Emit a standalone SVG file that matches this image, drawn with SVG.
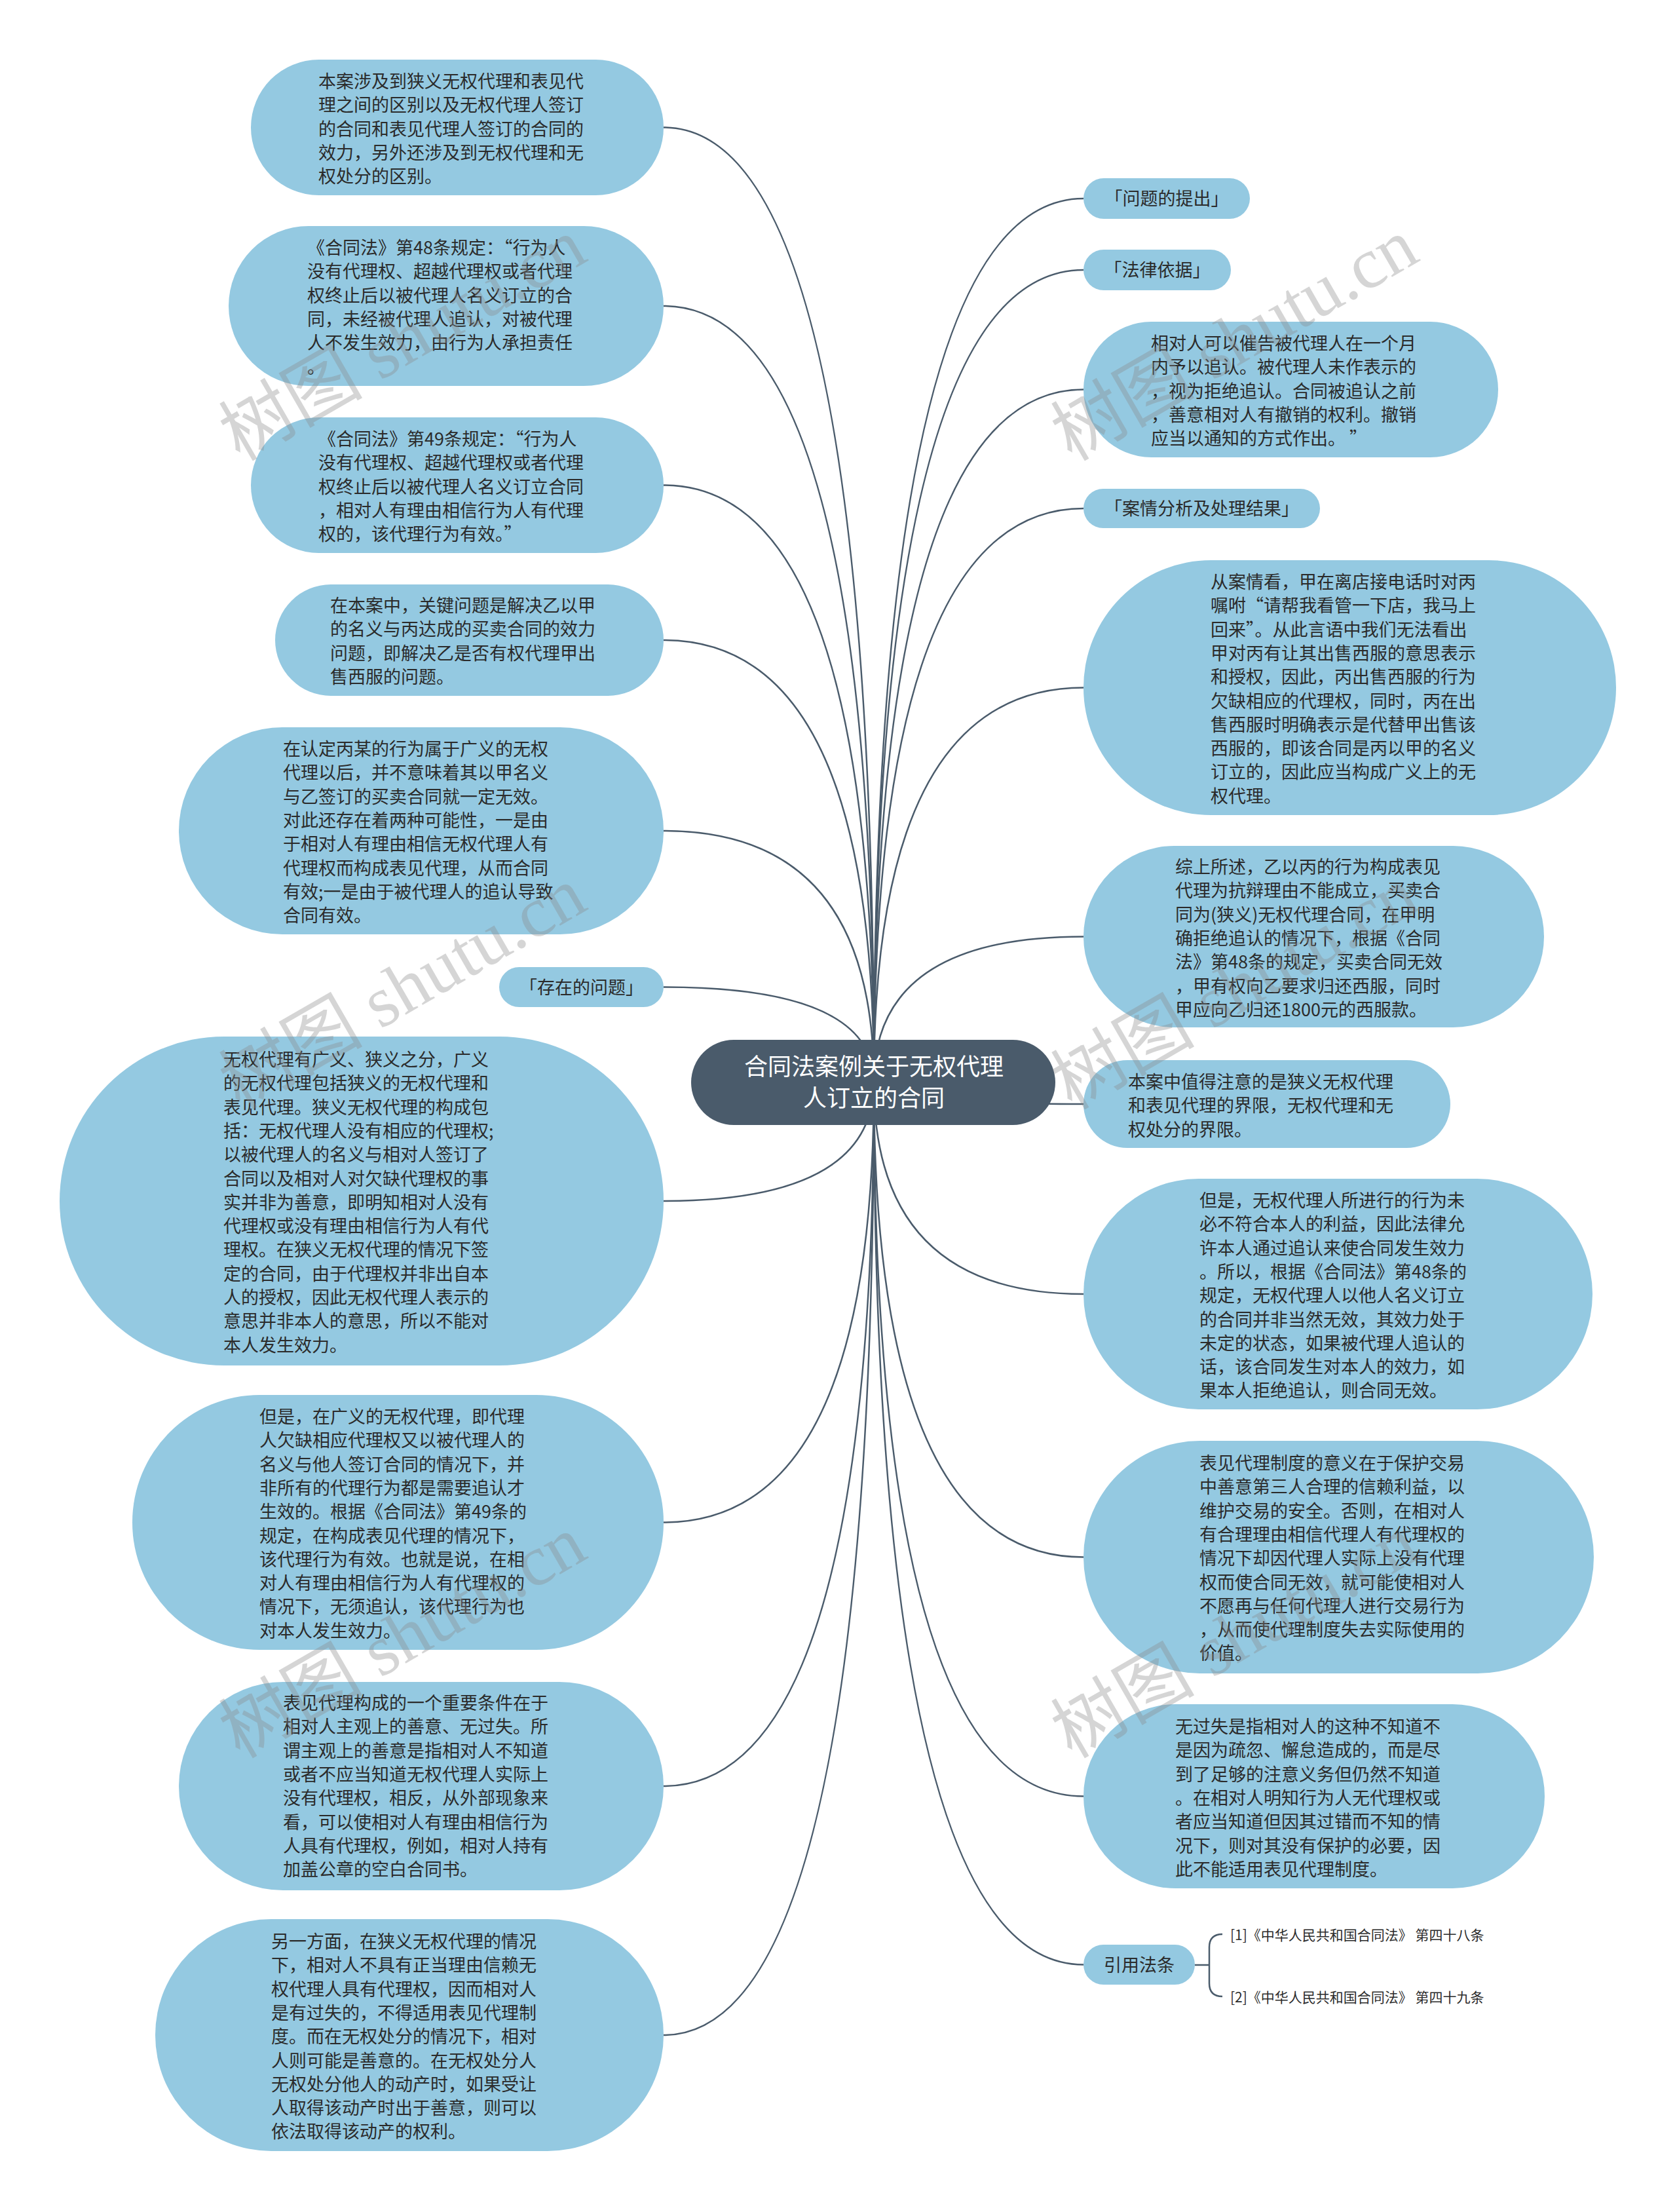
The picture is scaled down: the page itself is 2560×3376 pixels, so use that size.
<svg xmlns="http://www.w3.org/2000/svg" width="2560" height="3376" viewBox="0 0 2560 3376">
<defs>
<style>
.node{fill:#94c9e1;}
.root{fill:#4a5b6b;}
.t{font-family:"Noto Sans CJK SC","Noto Sans",sans-serif;font-size:27px;fill:#2b2b2b;}
.tc{font-family:"Noto Sans CJK SC","Noto Sans",sans-serif;font-size:27px;fill:#2b2b2b;text-anchor:middle;}
.rt{font-family:"Noto Sans CJK SC","Noto Sans",sans-serif;font-size:36px;fill:#ffffff;text-anchor:middle;}
.cite{font-family:"Noto Sans CJK SC","Noto Sans",sans-serif;font-size:21px;fill:#2b2b2b;}
.link{fill:none;stroke:#4a5b6b;stroke-width:2.5;}
.wm{font-size:110px;fill:#8a8a8a;opacity:0.35;}
</style>
</defs>
<rect width="2560" height="3376" fill="#ffffff"/>

<g id="connectors">
<path class="link" d="M1334,1652 Q1334,194.5 1013,194.5"/>
<path class="link" d="M1334,1652 Q1334,467 1013,467"/>
<path class="link" d="M1334,1652 Q1334,740.5 1013,740.5"/>
<path class="link" d="M1334,1652 Q1334,977 1013,977"/>
<path class="link" d="M1334,1652 Q1334,1268 1013,1268"/>
<path class="link" d="M1334,1652 Q1334,1506.5 1013,1506.5"/>
<path class="link" d="M1334,1652 Q1334,1833 1013,1833"/>
<path class="link" d="M1334,1652 Q1334,2323.5 1013,2323.5"/>
<path class="link" d="M1334,1652 Q1334,2726 1013,2726"/>
<path class="link" d="M1334,1652 Q1334,3106 1013,3106"/>
<path class="link" d="M1334,1652 Q1334,303 1654,303"/>
<path class="link" d="M1334,1652 Q1334,412 1654,412"/>
<path class="link" d="M1334,1652 Q1334,594.5 1654,594.5"/>
<path class="link" d="M1334,1652 Q1334,776 1654,776"/>
<path class="link" d="M1334,1652 Q1334,1049.5 1654,1049.5"/>
<path class="link" d="M1334,1652 Q1334,1429.5 1654,1429.5"/>
<path class="link" d="M1334,1652 Q1334,1685 1654,1685"/>
<path class="link" d="M1334,1652 Q1334,1975 1654,1975"/>
<path class="link" d="M1334,1652 Q1334,2376.5 1654,2376.5"/>
<path class="link" d="M1334,1652 Q1334,2741.5 1654,2741.5"/>
<path class="link" d="M1334,1652 Q1334,2998.5 1654,2998.5"/>
<path class="link" d="M1824,2999 L1846,2999 M1866,2952 Q1846,2952 1846,2972 L1846,3027 Q1846,3047 1866,3047"/>
</g>

<g id="root">
<rect class="root" x="1055" y="1587" width="556" height="130" rx="65"/>
<text class="rt" x="1334" y="1641">合同法案例关于无权代理</text>
<text class="rt" x="1334" y="1689">人订立的合同</text>
</g>

<g id="L1">
<rect class="node" x="383" y="91" width="630" height="207" rx="103.5"/>
<text class="t" x="486" y="134"><tspan x="486">本案涉及到狭义无权代理和表见代</tspan><tspan x="486" dy="36.3">理之间的区别以及无权代理人签订</tspan><tspan x="486" dy="36.3">的合同和表见代理人签订的合同的</tspan><tspan x="486" dy="36.3">效力，另外还涉及到无权代理和无</tspan><tspan x="486" dy="36.3">权处分的区别。</tspan></text>
</g>

<g id="L2">
<rect class="node" x="349" y="345" width="664" height="244" rx="122"/>
<text class="t" x="469" y="388"><tspan x="469">《合同法》第48条规定：“行为人</tspan><tspan x="469" dy="36.3">没有代理权、超越代理权或者代理</tspan><tspan x="469" dy="36.3">权终止后以被代理人名义订立的合</tspan><tspan x="469" dy="36.3">同，未经被代理人追认，对被代理</tspan><tspan x="469" dy="36.3">人不发生效力，由行为人承担责任</tspan><tspan x="469" dy="36.3">。</tspan></text>
</g>

<g id="L3">
<rect class="node" x="383" y="637" width="630" height="207" rx="103.5"/>
<text class="t" x="486" y="680"><tspan x="486">《合同法》第49条规定：“行为人</tspan><tspan x="486" dy="36.3">没有代理权、超越代理权或者代理</tspan><tspan x="486" dy="36.3">权终止后以被代理人名义订立合同</tspan><tspan x="486" dy="36.3">，相对人有理由相信行为人有代理</tspan><tspan x="486" dy="36.3">权的，该代理行为有效。”</tspan></text>
</g>

<g id="L4">
<rect class="node" x="420" y="892" width="593" height="170" rx="85"/>
<text class="t" x="504" y="934"><tspan x="504">在本案中，关键问题是解决乙以甲</tspan><tspan x="504" dy="36.3">的名义与丙达成的买卖合同的效力</tspan><tspan x="504" dy="36.3">问题，即解决乙是否有权代理甲出</tspan><tspan x="504" dy="36.3">售西服的问题。</tspan></text>
</g>

<g id="L5">
<rect class="node" x="273" y="1110" width="740" height="316" rx="158"/>
<text class="t" x="432" y="1153"><tspan x="432">在认定丙某的行为属于广义的无权</tspan><tspan x="432" dy="36.3">代理以后，并不意味着其以甲名义</tspan><tspan x="432" dy="36.3">与乙签订的买卖合同就一定无效。</tspan><tspan x="432" dy="36.3">对此还存在着两种可能性，一是由</tspan><tspan x="432" dy="36.3">于相对人有理由相信无权代理人有</tspan><tspan x="432" dy="36.3">代理权而构成表见代理，从而合同</tspan><tspan x="432" dy="36.3">有效;一是由于被代理人的追认导致</tspan><tspan x="432" dy="36.3">合同有效。</tspan></text>
</g>

<g id="L6">
<rect class="node" x="762" y="1476" width="251" height="61" rx="30.5"/>
<text class="tc" x="887.5" y="1517">「存在的问题」</text>
</g>

<g id="L7">
<rect class="node" x="91" y="1582" width="922" height="502" rx="251"/>
<text class="t" x="341" y="1627"><tspan x="341">无权代理有广义、狭义之分，广义</tspan><tspan x="341" dy="36.3">的无权代理包括狭义的无权代理和</tspan><tspan x="341" dy="36.3">表见代理。狭义无权代理的构成包</tspan><tspan x="341" dy="36.3">括：无权代理人没有相应的代理权;</tspan><tspan x="341" dy="36.3">以被代理人的名义与相对人签订了</tspan><tspan x="341" dy="36.3">合同以及相对人对欠缺代理权的事</tspan><tspan x="341" dy="36.3">实并非为善意，即明知相对人没有</tspan><tspan x="341" dy="36.3">代理权或没有理由相信行为人有代</tspan><tspan x="341" dy="36.3">理权。在狭义无权代理的情况下签</tspan><tspan x="341" dy="36.3">定的合同，由于代理权并非出自本</tspan><tspan x="341" dy="36.3">人的授权，因此无权代理人表示的</tspan><tspan x="341" dy="36.3">意思并非本人的意思，所以不能对</tspan><tspan x="341" dy="36.3">本人发生效力。</tspan></text>
</g>

<g id="L8">
<rect class="node" x="202" y="2129" width="811" height="389" rx="194.5"/>
<text class="t" x="396" y="2172"><tspan x="396">但是，在广义的无权代理，即代理</tspan><tspan x="396" dy="36.3">人欠缺相应代理权又以被代理人的</tspan><tspan x="396" dy="36.3">名义与他人签订合同的情况下，并</tspan><tspan x="396" dy="36.3">非所有的代理行为都是需要追认才</tspan><tspan x="396" dy="36.3">生效的。根据《合同法》第49条的</tspan><tspan x="396" dy="36.3">规定，在构成表见代理的情况下，</tspan><tspan x="396" dy="36.3">该代理行为有效。也就是说，在相</tspan><tspan x="396" dy="36.3">对人有理由相信行为人有代理权的</tspan><tspan x="396" dy="36.3">情况下，无须追认，该代理行为也</tspan><tspan x="396" dy="36.3">对本人发生效力。</tspan></text>
</g>

<g id="L9">
<rect class="node" x="273" y="2567" width="740" height="318" rx="159"/>
<text class="t" x="432" y="2609"><tspan x="432">表见代理构成的一个重要条件在于</tspan><tspan x="432" dy="36.3">相对人主观上的善意、无过失。所</tspan><tspan x="432" dy="36.3">谓主观上的善意是指相对人不知道</tspan><tspan x="432" dy="36.3">或者不应当知道无权代理人实际上</tspan><tspan x="432" dy="36.3">没有代理权，相反，从外部现象来</tspan><tspan x="432" dy="36.3">看，可以使相对人有理由相信行为</tspan><tspan x="432" dy="36.3">人具有代理权，例如，相对人持有</tspan><tspan x="432" dy="36.3">加盖公章的空白合同书。</tspan></text>
</g>

<g id="L10">
<rect class="node" x="237" y="2929" width="776" height="354" rx="177"/>
<text class="t" x="414" y="2973"><tspan x="414">另一方面，在狭义无权代理的情况</tspan><tspan x="414" dy="36.3">下，相对人不具有正当理由信赖无</tspan><tspan x="414" dy="36.3">权代理人具有代理权，因而相对人</tspan><tspan x="414" dy="36.3">是有过失的，不得适用表见代理制</tspan><tspan x="414" dy="36.3">度。而在无权处分的情况下，相对</tspan><tspan x="414" dy="36.3">人则可能是善意的。在无权处分人</tspan><tspan x="414" dy="36.3">无权处分他人的动产时，如果受让</tspan><tspan x="414" dy="36.3">人取得该动产时出于善意，则可以</tspan><tspan x="414" dy="36.3">依法取得该动产的权利。</tspan></text>
</g>

<g id="R1">
<rect class="node" x="1654" y="272" width="254" height="62" rx="31"/>
<text class="tc" x="1781" y="313">「问题的提出」</text>
</g>

<g id="R2">
<rect class="node" x="1654" y="381" width="225" height="62" rx="31"/>
<text class="tc" x="1766.5" y="422">「法律依据」</text>
</g>

<g id="R3">
<rect class="node" x="1654" y="491" width="633" height="207" rx="103.5"/>
<text class="t" x="1757" y="534"><tspan x="1757">相对人可以催告被代理人在一个月</tspan><tspan x="1757" dy="36.3">内予以追认。被代理人未作表示的</tspan><tspan x="1757" dy="36.3">，视为拒绝追认。合同被追认之前</tspan><tspan x="1757" dy="36.3">，善意相对人有撤销的权利。撤销</tspan><tspan x="1757" dy="36.3">应当以通知的方式作出。 ”</tspan></text>
</g>

<g id="R4">
<rect class="node" x="1654" y="746" width="361" height="60" rx="30"/>
<text class="tc" x="1834.5" y="786">「案情分析及处理结果」</text>
</g>

<g id="R5">
<rect class="node" x="1654" y="855" width="813" height="389" rx="194.5"/>
<text class="t" x="1848" y="898"><tspan x="1848">从案情看，甲在离店接电话时对丙</tspan><tspan x="1848" dy="36.3">嘱咐“请帮我看管一下店，我马上</tspan><tspan x="1848" dy="36.3">回来”。从此言语中我们无法看出</tspan><tspan x="1848" dy="36.3">甲对丙有让其出售西服的意思表示</tspan><tspan x="1848" dy="36.3">和授权，因此，丙出售西服的行为</tspan><tspan x="1848" dy="36.3">欠缺相应的代理权，同时，丙在出</tspan><tspan x="1848" dy="36.3">售西服时明确表示是代替甲出售该</tspan><tspan x="1848" dy="36.3">西服的，即该合同是丙以甲的名义</tspan><tspan x="1848" dy="36.3">订立的，因此应当构成广义上的无</tspan><tspan x="1848" dy="36.3">权代理。</tspan></text>
</g>

<g id="R6">
<rect class="node" x="1654" y="1291" width="703" height="277" rx="138.5"/>
<text class="t" x="1794" y="1333"><tspan x="1794">综上所述，乙以丙的行为构成表见</tspan><tspan x="1794" dy="36.3">代理为抗辩理由不能成立，买卖合</tspan><tspan x="1794" dy="36.3">同为(狭义)无权代理合同，在甲明</tspan><tspan x="1794" dy="36.3">确拒绝追认的情况下，根据《合同</tspan><tspan x="1794" dy="36.3">法》第48条的规定，买卖合同无效</tspan><tspan x="1794" dy="36.3">，甲有权向乙要求归还西服，同时</tspan><tspan x="1794" dy="36.3">甲应向乙归还1800元的西服款。</tspan></text>
</g>

<g id="R7">
<rect class="node" x="1654" y="1618" width="560" height="134" rx="67"/>
<text class="t" x="1722" y="1661"><tspan x="1722">本案中值得注意的是狭义无权代理</tspan><tspan x="1722" dy="36.3">和表见代理的界限，无权代理和无</tspan><tspan x="1722" dy="36.3">权处分的界限。</tspan></text>
</g>

<g id="R8">
<rect class="node" x="1654" y="1799" width="777" height="352" rx="176"/>
<text class="t" x="1831" y="1842"><tspan x="1831">但是，无权代理人所进行的行为未</tspan><tspan x="1831" dy="36.3">必不符合本人的利益，因此法律允</tspan><tspan x="1831" dy="36.3">许本人通过追认来使合同发生效力</tspan><tspan x="1831" dy="36.3">。所以，根据《合同法》第48条的</tspan><tspan x="1831" dy="36.3">规定，无权代理人以他人名义订立</tspan><tspan x="1831" dy="36.3">的合同并非当然无效，其效力处于</tspan><tspan x="1831" dy="36.3">未定的状态，如果被代理人追认的</tspan><tspan x="1831" dy="36.3">话，该合同发生对本人的效力，如</tspan><tspan x="1831" dy="36.3">果本人拒绝追认，则合同无效。</tspan></text>
</g>

<g id="R9">
<rect class="node" x="1654" y="2199" width="779" height="355" rx="177.5"/>
<text class="t" x="1831" y="2243"><tspan x="1831">表见代理制度的意义在于保护交易</tspan><tspan x="1831" dy="36.3">中善意第三人合理的信赖利益，以</tspan><tspan x="1831" dy="36.3">维护交易的安全。否则，在相对人</tspan><tspan x="1831" dy="36.3">有合理理由相信代理人有代理权的</tspan><tspan x="1831" dy="36.3">情况下却因代理人实际上没有代理</tspan><tspan x="1831" dy="36.3">权而使合同无效，就可能使相对人</tspan><tspan x="1831" dy="36.3">不愿再与任何代理人进行交易行为</tspan><tspan x="1831" dy="36.3">，从而使代理制度失去实际使用的</tspan><tspan x="1831" dy="36.3">价值。</tspan></text>
</g>

<g id="R10">
<rect class="node" x="1654" y="2601" width="704" height="281" rx="140.5"/>
<text class="t" x="1794" y="2645"><tspan x="1794">无过失是指相对人的这种不知道不</tspan><tspan x="1794" dy="36.3">是因为疏忽、懈怠造成的，而是尽</tspan><tspan x="1794" dy="36.3">到了足够的注意义务但仍然不知道</tspan><tspan x="1794" dy="36.3">。在相对人明知行为人无代理权或</tspan><tspan x="1794" dy="36.3">者应当知道但因其过错而不知的情</tspan><tspan x="1794" dy="36.3">况下，则对其没有保护的必要，因</tspan><tspan x="1794" dy="36.3">此不能适用表见代理制度。</tspan></text>
</g>

<g id="R11">
<rect class="node" x="1654" y="2968" width="170" height="61" rx="30.5"/>
<text class="tc" x="1739" y="3009">引用法条</text>
</g>

<g id="C1">
<text class="cite" x="1878" y="2961">[1]《中华人民共和国合同法》 第四十八条</text>
</g>
<g id="C2">
<text class="cite" x="1878" y="3056">[2]《中华人民共和国合同法》 第四十九条</text>
</g>

<g id="watermarks">
<text class="wm" transform="translate(366,705) rotate(-30)"><tspan font-family="Noto Sans CJK SC,sans-serif">树图</tspan><tspan font-family="Liberation Serif,serif"> shutu.cn</tspan></text>
<text class="wm" transform="translate(1636,705) rotate(-30)"><tspan font-family="Noto Sans CJK SC,sans-serif">树图</tspan><tspan font-family="Liberation Serif,serif"> shutu.cn</tspan></text>
<text class="wm" transform="translate(366,1695) rotate(-30)"><tspan font-family="Noto Sans CJK SC,sans-serif">树图</tspan><tspan font-family="Liberation Serif,serif"> shutu.cn</tspan></text>
<text class="wm" transform="translate(1636,1695) rotate(-30)"><tspan font-family="Noto Sans CJK SC,sans-serif">树图</tspan><tspan font-family="Liberation Serif,serif"> shutu.cn</tspan></text>
<text class="wm" transform="translate(366,2685) rotate(-30)"><tspan font-family="Noto Sans CJK SC,sans-serif">树图</tspan><tspan font-family="Liberation Serif,serif"> shutu.cn</tspan></text>
<text class="wm" transform="translate(1636,2685) rotate(-30)"><tspan font-family="Noto Sans CJK SC,sans-serif">树图</tspan><tspan font-family="Liberation Serif,serif"> shutu.cn</tspan></text>
</g>
</svg>
